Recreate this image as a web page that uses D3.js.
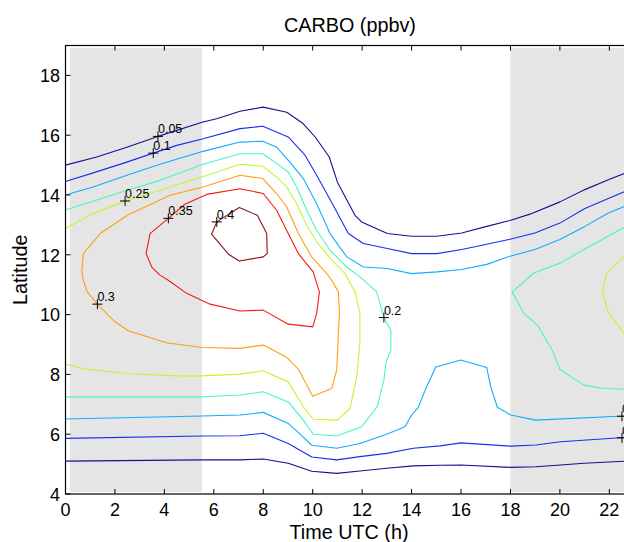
<!DOCTYPE html>
<html>
<head>
<meta charset="utf-8">
<script src="https://cdn.jsdelivr.net/npm/d3@7"></script>
<style>
  body { margin: 0; background: #fff; }
  svg { display: block; font-family: "Liberation Sans", Arial, Helvetica, sans-serif; }
</style>
</head>
<body>
<svg id="chart" width="624" height="542"></svg>
<script>
// ---- axis setup ----
const timeDomain = [0, 23];
const latDomain = [4, 19];
const timeTicks = [0, 2, 4, 6, 8, 10, 12, 14, 16, 18, 20, 22];
const latTicks = [4, 6, 8, 10, 12, 14, 16, 18];

// night-time shading (UTC hours) and its latitude extent
const nightSpans = [[0.18, 5.52], [18, 23]];
const nightLat = [4.07, 18.92];

// contour levels (ppbv) and their line colours
const levels = [0.05, 0.1, 0.15, 0.2, 0.25, 0.3, 0.35, 0.4];
const levelColors = ["#12128e", "#1a2cf0", "#10acff", "#48f5c0",
                     "#c4f530", "#ff9e14", "#f51a10", "#861414"];

// contour polylines as [time UTC (h), latitude]
const c005North = [[0,15.0],[1.26,15.27],[2.48,15.6],[3.74,15.96],[5.56,16.44],[6.12,16.55],
  [7.06,16.8],[8.0,16.94],[8.95,16.77],[9.61,16.39],[10.1,15.94],[10.67,15.27],[11.0,14.43],
  [11.71,13.32],[11.98,13.1],[13.02,12.71],[14.0,12.62],[15.02,12.62],[16.03,12.73],
  [17.04,12.95],[17.98,13.15],[18.79,13.36],[20.0,13.77],[21.01,14.18],[21.96,14.51],[23,14.85]];
const c005South = [[0,5.1],[5.51,5.14],[7.06,5.14],[8,5.17],[9.01,5.03],[9.96,4.76],[10.97,4.69],
  [11.91,4.77],[12.99,4.86],[14.07,4.94],[15.15,4.96],[15.99,4.97],[18.01,4.89],[19.02,4.91],
  [20.03,4.97],[20.97,5.03],[23,5.11]];
const c010North = [[0,14.45],[1.12,14.74],[2.48,15.1],[3.55,15.4],[4.5,15.66],[5.57,15.88],
  [7.06,16.22],[7.98,16.3],[9.01,15.94],[9.69,15.33],[10.16,14.66],[10.83,13.66],[11.44,12.71],
  [12.05,12.38],[13.02,12.21],[14.0,12.04],[15.02,12.04],[16.03,12.18],[17.04,12.35],
  [17.98,12.52],[18.99,12.73],[20.0,13.06],[21.01,13.55],[21.96,13.88],[23,14.25]];
const c010South = [[0,5.86],[5.51,5.94],[7.06,5.95],[8,6.03],[9.01,5.69],[9.96,5.24],[10.97,5.14],
  [11.91,5.25],[12.99,5.36],[14.07,5.53],[15.15,5.61],[15.99,5.71],[18.01,5.6],[19.02,5.64],
  [20.03,5.75],[22.59,5.89],[23,5.91]];
const c015North = [[0,14.0],[1.12,14.27],[2.48,14.66],[3.82,15.03],[5.57,15.46],[7.06,15.77],
  [7.98,15.8],[8.54,15.6],[9.08,15.1],[9.62,14.55],[10.16,13.71],[10.7,12.71],[11.38,11.93],
  [12.05,11.59],[13.02,11.54],[14.0,11.37],[15.02,11.43],[16.03,11.51],[17.04,11.68],
  [17.98,11.95],[18.99,12.18],[20.0,12.51],[21.01,12.95],[21.96,13.4],[23,13.75]];
const c015South = [[0,6.51],[5.51,6.61],[7.06,6.64],[8,6.73],[9.01,6.36],[9.49,6.0],[9.96,5.63],
  [10.97,5.53],[11.91,5.69],[12.99,6.0],[13.73,6.25],[14.0,6.64],[14.27,6.9],[14.61,7.59],
  [14.98,8.25],[15.99,8.48],[17.04,8.23],[17.2,7.59],[17.47,6.9],[18.01,6.64],[19.02,6.47],
  [22.59,6.61],[23,6.62]];
const c020West = [[0,13.5],[1.11,13.79],[2.49,14.16],[3.82,14.49],[5.57,15.03],[7.06,15.38],
  [7.98,15.38],[8.47,15.1],[9.01,14.77],[9.35,14.27],[9.76,13.49],[10.16,12.82],[10.7,12.15],
  [11.38,11.59],[11.91,11.26],[12.59,10.76],[12.88,9.9],[13.16,9.48],[13.16,8.81],[12.97,8.42],
  [12.88,7.81],[12.61,6.92],[11.98,6.25],[10.97,5.94],[10.02,6.0],[9.62,6.47],[9.01,7.08],
  [8.0,7.42],[7.06,7.31],[5.51,7.25],[0,7.25]];
const c020East = [[23,13.1],[22.59,12.91],[20.97,12.18],[20.03,11.73],[18.95,11.39],[18.07,10.76],
  [18.55,10.04],[19.09,9.65],[19.69,8.81],[20.0,8.17],[20.97,7.64],[21.78,7.53],[23,7.5]];
const c025West = [[0,12.88],[1.06,13.36],[2.48,13.82],[3.82,14.16],[5.57,14.62],[7.06,15.03],
  [7.98,14.96],[8.54,14.6],[8.95,14.27],[9.35,13.71],[9.76,12.99],[10.16,12.43],[10.77,11.82],
  [11.31,11.37],[11.71,10.76],[11.91,10.04],[11.91,9.04],[11.78,7.92],[11.51,6.86],[11.0,6.47],
  [10.02,6.5],[9.62,6.92],[9.01,7.75],[8.0,8.12],[7.06,8.01],[5.51,7.95],[4.5,7.95],[2.48,8.03],
  [0.86,8.17],[0,8.34]];
const c025East = [[23,12.1],[22.59,11.93],[21.89,11.39],[21.72,10.73],[21.95,10.09],[22.59,9.37],[23,9.1]];
const c030Loop = [[0.66,11.43],[0.72,12.04],[1.4,12.71],[2.54,13.34],[4.23,13.99],[5.57,14.27],
  [7.06,14.66],[7.98,14.55],[8.54,14.05],[8.95,13.6],[9.42,12.71],[9.96,11.93],[10.57,11.37],
  [10.77,11.15],[11.04,10.76],[11.08,10.04],[10.97,8.14],[10.77,7.53],[10.0,7.27],[9.42,8.17],
  [8.95,8.57],[8.0,8.98],[7.06,8.87],[5.51,8.9],[4.09,9.06],[2.54,9.46],[2.0,9.76],[1.29,10.35],
  [0.88,10.76],[0.72,11.15]];
const c035Loop = [[3.42,12.71],[4.16,13.22],[4.83,13.69],[5.71,14.02],[7.06,14.21],[8.0,14.05],
  [8.54,13.49],[9.01,12.71],[9.42,12.04],[10.02,11.43],[10.27,10.76],[10.16,10.04],[10.0,9.59],
  [9.01,9.68],[8.0,10.15],[7.06,10.12],[5.85,10.35],[4.9,10.71],[4.16,11.15],[3.82,11.32],
  [3.49,11.59],[3.26,12.04]];
const c040Loop = [[5.91,12.69],[6.12,13.1],[7.03,13.58],[7.76,13.32],[8.14,12.71],[8.16,12.04],
  [8.0,11.93],[7.03,11.79],[6.59,12.02]];

const contourLines = [
  { level: 0.05, points: c005North, closed: false },
  { level: 0.05, points: c005South, closed: false },
  { level: 0.1,  points: c010North, closed: false },
  { level: 0.1,  points: c010South, closed: false },
  { level: 0.15, points: c015North, closed: false },
  { level: 0.15, points: c015South, closed: false },
  { level: 0.2,  points: c020West,  closed: false },
  { level: 0.2,  points: c020East,  closed: false },
  { level: 0.25, points: c025West,  closed: false },
  { level: 0.25, points: c025East,  closed: false },
  { level: 0.3,  points: c030Loop,  closed: true },
  { level: 0.35, points: c035Loop,  closed: true },
  { level: 0.4,  points: c040Loop,  closed: true }
];

// in-line contour labels: [level, time, latitude]
const contourLabels = [
  [0.05, 3.74, 15.96], [0.1, 3.55, 15.4], [0.25, 2.41, 13.8], [0.35, 4.16, 13.22],
  [0.4, 6.12, 13.1], [0.3, 1.29, 10.35], [0.2, 12.88, 9.9], [0.15, 22.51, 6.6], [0.1, 22.51, 5.88]
];

// ---- drawing ----
const svg = d3.select("#chart");
const margin = { left: 65.5, top: 45.5, bottom: 494 };
const x = d3.scaleLinear().domain(timeDomain).range([margin.left, margin.left + 23 * 24.72]);
const y = d3.scaleLinear().domain(latDomain).range([margin.bottom, margin.top]);
const x0 = x.range()[0], x1 = x.range()[1], y0 = y.range()[0], y1 = y.range()[1];

svg.append("defs").append("clipPath").attr("id", "plot-clip")
  .append("rect").attr("x", x0).attr("y", y1).attr("width", x1 - x0).attr("height", y0 - y1);

const plot = svg.append("g").attr("clip-path", "url(#plot-clip)");

plot.selectAll("rect.night").data(nightSpans).join("rect")
  .attr("class", "night")
  .attr("x", d => x(d[0])).attr("width", d => x(d[1]) - x(d[0]))
  .attr("y", y(nightLat[1])).attr("height", y(nightLat[0]) - y(nightLat[1]))
  .attr("fill", "#e5e5e5");

const colorOf = d3.scaleOrdinal().domain(levels).range(levelColors);
const line = d3.line().x(d => x(d[0])).y(d => y(d[1]));
const lineClosed = d3.line().x(d => x(d[0])).y(d => y(d[1])).curve(d3.curveLinearClosed);

plot.selectAll("path.contour").data(contourLines).join("path")
  .attr("class", "contour")
  .attr("d", d => (d.closed ? lineClosed : line)(d.points))
  .attr("fill", "none")
  .attr("stroke", d => colorOf(d.level))
  .attr("stroke-width", 1.1)
  .attr("stroke-linejoin", "round");

const lab = plot.selectAll("g.clabel").data(contourLabels).join("g")
  .attr("class", "clabel")
  .attr("transform", d => `translate(${x(d[1])},${y(d[2])})`);
lab.append("path").attr("d", "M-5,0H5M0,-5V5").attr("stroke", "#000").attr("stroke-width", 1);
lab.append("text").attr("x", 0).attr("y", -3).attr("font-size", 12.5).attr("fill", "#000")
  .text(d => String(d[0]));

// axes box with inward ticks on all sides
const axes = svg.append("g");
axes.append("rect").attr("x", x0).attr("y", y1).attr("width", x1 - x0).attr("height", y0 - y1)
  .attr("fill", "none").attr("stroke", "#000").attr("stroke-width", 1.2);

const tickLen = 5;
axes.selectAll("path.xtick").data(timeTicks).join("path").attr("class", "xtick")
  .attr("d", d => `M${x(d)},${y0}V${y0 - tickLen}M${x(d)},${y1}V${y1 + tickLen}`)
  .attr("stroke", "#000").attr("stroke-width", 1);
axes.selectAll("path.ytick").data(latTicks).join("path").attr("class", "ytick")
  .attr("d", d => `M${x0},${y(d)}H${x0 + tickLen}M${x1},${y(d)}H${x1 - tickLen}`)
  .attr("stroke", "#000").attr("stroke-width", 1);

axes.selectAll("text.xlab").data(timeTicks).join("text").attr("class", "xlab")
  .attr("x", d => x(d)).attr("y", 516).attr("text-anchor", "middle")
  .attr("font-size", 18).attr("fill", "#000").text(d => d);
axes.selectAll("text.ylab").data(latTicks).join("text").attr("class", "ylab")
  .attr("x", 60).attr("y", d => y(d) + 6.8).attr("text-anchor", "end")
  .attr("font-size", 18).attr("fill", "#000").text(d => d);

svg.append("text").attr("x", 350).attr("y", 31.5).attr("text-anchor", "middle")
  .attr("font-size", 19.8).attr("fill", "#000").text("CARBO (ppbv)");
svg.append("text").attr("x", 349).attr("y", 539).attr("text-anchor", "middle")
  .attr("font-size", 19.8).attr("fill", "#000").text("Time UTC (h)");
svg.append("text").attr("transform", `translate(26.5,${(y0 + y1) / 2}) rotate(-90)`)
  .attr("text-anchor", "middle").attr("font-size", 19.8).attr("fill", "#000").text("Latitude");
</script>
</body>
</html>
